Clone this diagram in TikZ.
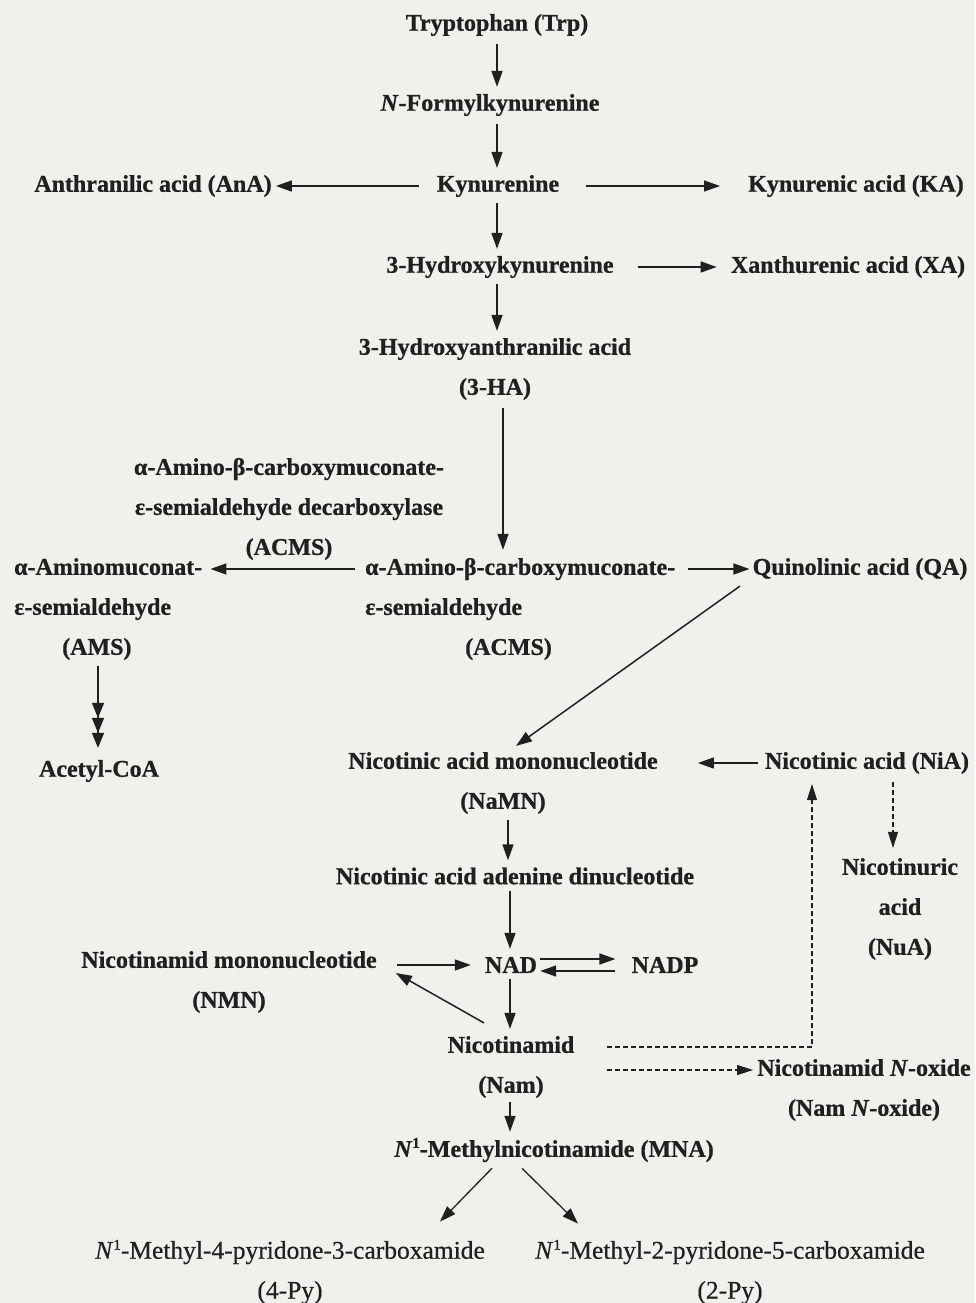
\documentclass[tikz,border=0pt]{standalone}
\usepackage{fontspec}
\setmainfont{Liberation Serif}[BoldFeatures={FakeBold=0.8},BoldItalicFeatures={FakeBold=0.8}]
\newfontfamily\pyfont{Liberation Serif}[FakeBold=0.5,ItalicFeatures={FakeBold=0.5}]
\usetikzlibrary{arrows.meta}
\definecolor{ink}{RGB}{32,32,32}
\definecolor{paper}{RGB}{240,240,236}
\newcommand\supone{\raisebox{9pt}{\fontsize{15}{15}\selectfont 1}}
\begin{document}
\begin{tikzpicture}[x=1pt,y=-1pt,
  lbl/.style={font=\bfseries\fontsize{24}{40}\selectfont, text=ink, inner sep=2pt},
  lblr/.style={font=\pyfont\fontsize{25.5}{40}\selectfont, text=ink, inner sep=2pt},
  arr/.style={-{Triangle[length=16pt,width=11pt]}, line width=1.5pt, draw=ink},
  arr3/.style={-{Triangle[length=15pt,width=12pt]Triangle[length=15pt,width=12pt]Triangle[length=15pt,width=12pt]}, line width=1.5pt, draw=ink},
  darr/.style={-{Triangle[length=16pt,width=10pt]}, line width=1.1pt, draw=ink, dash pattern=on 5pt off 3pt}]
\fill[paper] (0,0) rectangle (975,1303);
\useasboundingbox (0,0) rectangle (975,1303);

% spine x positions
\coordinate (x497) at (497,0);
\coordinate (x503) at (503,0);
\coordinate (x508) at (508,0);
\coordinate (x510) at (510,0);
\coordinate (x98) at (98,0);
\coordinate (x893) at (893,0);

% nodes
\node[lbl] (trp) at (497,25) {Tryptophan (Trp)};
\node[lbl] (nfk) at (490,105) {\textit{N}-Formylkynurenine};
\node[lbl] (kyn) at (498,186) {Kynurenine};
\node[lbl] (ana) at (153,186) {Anthranilic acid (AnA)};
\node[lbl] (ka) at (856,186) {Kynurenic acid (KA)};
\node[lbl] (hk) at (500,267) {3-Hydroxykynurenine};
\node[lbl] (xa) at (848,267) {Xanthurenic acid (XA)};
\node[lbl, align=center] (ha) at (495,369) {3-Hydroxyanthranilic acid\\(3-HA)};
\node[lbl, align=center] (enz) at (289,509) {α-Amino-β-carboxymuconate-\\ε-semialdehyde decarboxylase\\(ACMS)};
\node[lbl, align=left, anchor=west] (ams) at (12,609) {α-Aminomuconat-\\ε-semialdehyde\\\hspace*{48pt}(AMS)};
\node[lbl, align=left, anchor=west] (acms) at (363,609) {α-Amino-β-carboxymuconate-\\ε-semialdehyde\\\hspace*{100pt}(ACMS)};
\node[lbl] (qa) at (860,569) {Quinolinic acid (QA)};
\node[lbl] (acoa) at (99,771) {Acetyl-CoA};
\node[lbl, align=center] (namn) at (503,783) {Nicotinic acid mononucleotide\\(NaMN)};
\node[lbl] (nia) at (867,763) {Nicotinic acid (NiA)};
\node[lbl, align=center] (nua) at (900,909) {Nicotinuric\\acid\\(NuA)};
\node[lbl] (naad) at (515,876) {Nicotinic acid adenine dinucleotide};
\node[lbl, align=center] (nmn) at (229,982) {Nicotinamid mononucleotide\\(NMN)};
\node[lbl] (nad) at (511,965) {NAD};
\node[lbl] (nadp) at (665,965) {NADP};
\node[lbl, align=center] (nam) at (511,1067) {Nicotinamid\\(Nam)};
\node[lbl, align=center] (nox) at (864,1090) {Nicotinamid \textit{N}-oxide\\(Nam \textit{N}-oxide)};
\node[lbl] (mna) at (554,1150) {\textit{N}\supone-Methylnicotinamide (MNA)};
\node[lblr, align=center] (py4) at (290,1272) {\textit{N}\supone-Methyl-4-pyridone-3-carboxamide\\(4-Py)};
\node[lblr, align=center] (py2) at (730,1272) {\textit{N}\supone-Methyl-2-pyridone-5-carboxamide\\(2-Py)};

% spine arrows
\draw[arr, shorten <=6pt, shorten >=5pt] (trp.south -| x497) -- (nfk.north -| x497);
\draw[arr, shorten <=6pt, shorten >=5pt] (nfk.south -| x497) -- (kyn.north -| x497);
\draw[arr, shorten <=4pt, shorten >=5pt] (kyn.south -| x497) -- (hk.north -| x497);
\draw[arr, shorten <=4pt, shorten >=5pt] (hk.south -| x497) -- (ha.north -| x497);
\draw[arr, shorten <=6pt, shorten >=6pt] (ha.south -| x503) -- (acms.north -| x503);
% side arrows
\draw[arr, shorten <=16pt, shorten >=2pt] (kyn.west) -- (ana.east);
\draw[arr, shorten <=25pt, shorten >=26pt] (kyn.east) -- (ka.west);
\draw[arr, shorten <=22pt, shorten >=12pt] (hk.east) -- (xa.west);
\draw[arr, shorten <=8pt, shorten >=6pt] ([yshift=40pt]acms.west) -- ([yshift=40pt]ams.east);
\draw[arr, shorten <=11pt, shorten >=1pt] ([yshift=40pt]acms.east) -- (qa.west);
\draw[arr] ([xshift=-120pt,yshift=-4pt]qa.south) -- ([xshift=13pt,yshift=4pt]namn.north);
\draw[arr3, shorten <=4pt, shorten >=10pt] (ams.south -| x98) -- (acoa.north -| x98);
\draw[arr, shorten <=5pt, shorten >=38pt] (nia.west) -- ([yshift=20pt]namn.east);
\draw[darr, shorten <=6pt, shorten >=8pt] (nia.south -| x893) -- (nua.north -| x893);
\draw[arr, shorten <=4pt, shorten >=5pt] (namn.south -| x508) -- (naad.north -| x508);
\draw[arr, shorten <=4pt, shorten >=6pt] (naad.south -| x510) -- (nad.north -| x510);
\draw[arr, shorten <=18pt, shorten >=12pt] ([yshift=17pt]nmn.east) -- (nad.west);
\draw[arr, shorten <=1pt, shorten >=14pt] ([yshift=6pt]nad.east) -- ([yshift=6pt]nadp.west);
\draw[arr, shorten <=14pt, shorten >=1pt] ([yshift=-6pt]nadp.west) -- ([yshift=-6pt]nad.east);
\draw[arr] ([xshift=-27pt,yshift=11pt]nam.north) -- ([xshift=17pt,yshift=9pt]nmn.east);
\draw[arr, shorten <=4pt, shorten >=5pt] (nad.south -| x510) -- (nam.north -| x510);
\draw[darr, shorten <=30pt, shorten >=8pt] ([yshift=20pt]nam.east) -| ([xshift=-55pt]nia.south);
\draw[darr, shorten <=30pt, shorten >=2pt] ([yshift=-3pt]nam.east) -- ([yshift=20pt]nox.west);
\draw[arr, shorten <=2pt, shorten >=4pt] (nam.south -| x510) -- (mna.north -| x510);
\draw[arr, line width=1.3pt] ([xshift=-62pt,yshift=-4pt]mna.south) -- ([xshift=150pt,yshift=16pt]py4.north);
\draw[arr, line width=1.3pt] ([xshift=-32pt,yshift=-4pt]mna.south) -- ([xshift=-152pt,yshift=14pt]py2.north);
\end{tikzpicture}
\end{document}
